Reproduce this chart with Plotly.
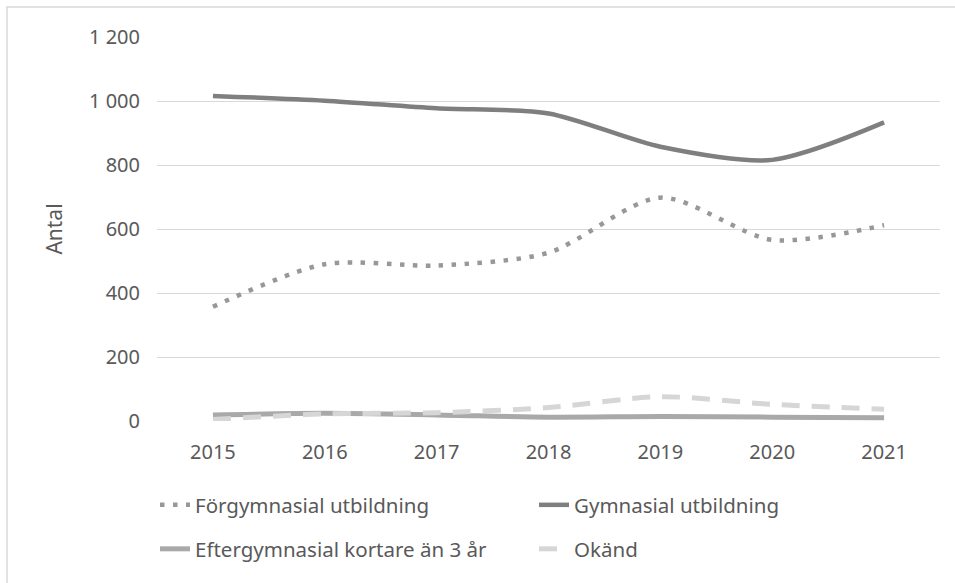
import plotly.graph_objects as go

years = ["2015", "2016", "2017", "2018", "2019", "2020", "2021"]
forgymnasial = [357, 490, 486, 526, 698, 566, 612]
gymnasial = [1016, 1001, 977, 961, 857, 816, 933]
eftergymnasial = [19, 24, 19, 12, 14, 12, 10]
okand = [5, 22, 26, 42, 76, 52, 37]

names = ["Förgymnasial utbildning", "Gymnasial utbildning",
         "Eftergymnasial kortare än 3 år", "Okänd"]

W, H = 955, 583
L, R, T, B = 157, 15, 37, 162
pw, ph = W - L - R, H - T - B

def px_x(x):
    return (x - L) / pw

def px_y(y):
    return (H - B - y) / ph

FONT = "Noto Sans"
TXT = "#595959"

fig = go.Figure()
fig.add_trace(go.Scatter(x=years, y=forgymnasial, name=names[0], mode="lines",
                         line=dict(color="#989898", width=4.5, dash="4.5px,8.5px", shape="spline", smoothing=0.8),
                         legend="legend"))
fig.add_trace(go.Scatter(x=years, y=gymnasial, name=names[1], mode="lines",
                         line=dict(color="#7f7f7f", width=4.5, shape="spline", smoothing=0.8),
                         legend="legend"))
fig.add_trace(go.Scatter(x=years, y=eftergymnasial, name=names[2], mode="lines",
                         line=dict(color="#a9a9a9", width=5, shape="spline", smoothing=0.8),
                         legend="legend2"))
fig.add_trace(go.Scatter(x=years, y=okand, name=names[3], mode="lines",
                         line=dict(color="#d6d6d6", width=5, dash="18px,12px", shape="spline", smoothing=0.8),
                         legend="legend2"))

legend_common = dict(orientation="h", xanchor="left", yanchor="middle",
                     font=dict(family=FONT, size=20.5, color=TXT),
                     bgcolor="rgba(0,0,0,0)", entrywidth=334, entrywidthmode="pixels",
                     itemwidth=30, traceorder="normal")

fig.update_layout(
    width=W, height=H,
    margin=dict(l=L, r=R, t=T, b=B, autoexpand=False),
    paper_bgcolor="white", plot_bgcolor="white",
    separators=", ",
    showlegend=True,
    legend=dict(x=px_x(155), y=px_y(505), **legend_common),
    legend2=dict(x=px_x(155), y=px_y(549), **legend_common),
    xaxis=dict(type="category", range=[-0.5, 6.5], showgrid=False, showline=False, zeroline=False,
               ticks="", tickfont=dict(family=FONT, size=20, color=TXT),
               ticklabelstandoff=17),
    yaxis=dict(range=[0, 1200], dtick=200, tickformat=",d", separatethousands=True,
               showgrid=True, gridcolor="#d9d9d9", gridwidth=1.3,
               zeroline=False, showline=False, ticks="",
               tickfont=dict(family=FONT, size=20, color=TXT),
               ticklabelstandoff=16, automargin=False,
               title=dict(text="Antal", font=dict(family=FONT, size=21, color=TXT), standoff=20)),
    shapes=[dict(type="rect", xref="paper", yref="paper",
                 x0=px_x(7), x1=px_x(970), y0=px_y(600), y1=px_y(7),
                 line=dict(color="#d9d9d9", width=1.5), fillcolor="rgba(0,0,0,0)", layer="below")],
)

fig.write_html("out.html", post_script="document.body.style.margin='0';",
               config={"displayModeBar": False})
